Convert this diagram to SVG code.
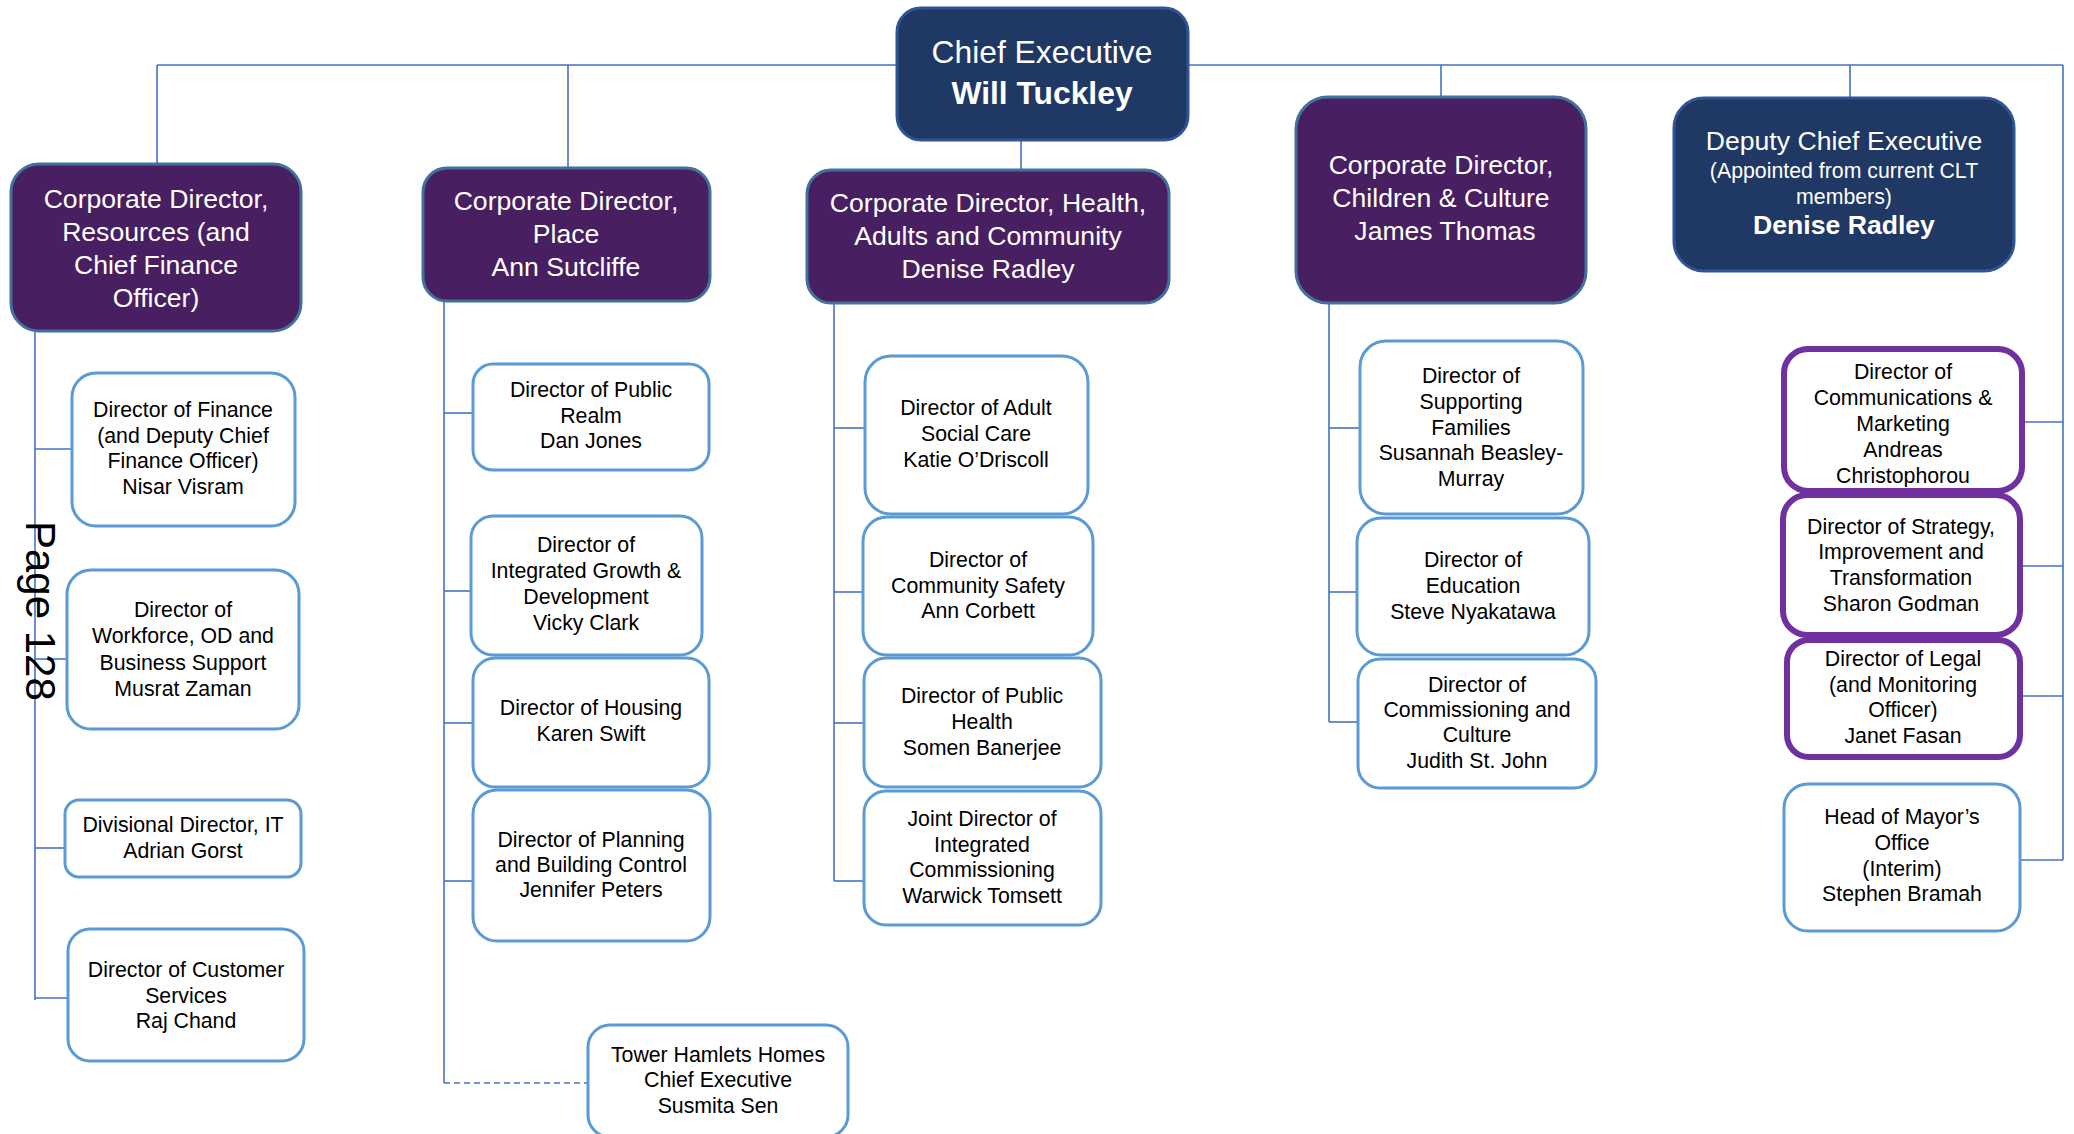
<svg xmlns="http://www.w3.org/2000/svg" width="2074" height="1134" viewBox="0 0 2074 1134">
<style>
.bg{fill:#ffffff}
.con{stroke:#4472C4;stroke-width:1.6;fill:none}
.dash{stroke:#4472C4;stroke-width:1.6;fill:none;stroke-dasharray:6 4}
.navy{fill:#203864;stroke:#2F5597;stroke-width:3}
.purp{fill:#481F60;stroke:#41719C;stroke-width:3}
.sub{fill:#ffffff;stroke:#5B9BD5;stroke-width:3}
.subp{fill:#ffffff;stroke:#7030A0;stroke-width:6}
.tw{font-family:'Liberation Sans',Arial,sans-serif;fill:#ffffff;text-anchor:middle;font-size:26.6px}
.tc{font-family:'Liberation Sans',Arial,sans-serif;fill:#ffffff;text-anchor:middle;font-size:31.8px}
.ts{font-family:'Liberation Sans',Arial,sans-serif;fill:#000000;text-anchor:middle;font-size:21.3px}
.b{font-weight:bold}
</style>
<defs>
<clipPath id="clipD1"><rect x="1784" y="349" width="238" height="138"/></clipPath>
</defs>
<rect class="bg" x="0" y="0" width="2074" height="1134"/>

<g id="connectors">
<line class="con" x1="157" y1="65" x2="2063" y2="65"/>
<line class="con" x1="157" y1="65" x2="157" y2="164"/>
<line class="con" x1="568" y1="65" x2="568" y2="168"/>
<line class="con" x1="1021" y1="140" x2="1021" y2="170"/>
<line class="con" x1="1441" y1="65" x2="1441" y2="97"/>
<line class="con" x1="1850" y1="65" x2="1850" y2="98"/>
<line class="con" x1="2063" y1="65" x2="2063" y2="860"/>

<line class="con" x1="35" y1="331" x2="35" y2="1000"/>
<line class="con" x1="35" y1="449" x2="72" y2="449"/>
<line class="con" x1="35" y1="659" x2="67" y2="659"/>
<line class="con" x1="35" y1="848" x2="65" y2="848"/>
<line class="con" x1="35" y1="998" x2="68" y2="998"/>

<line class="con" x1="444" y1="301" x2="444" y2="1083"/>
<line class="con" x1="444" y1="413" x2="473" y2="413"/>
<line class="con" x1="444" y1="591" x2="471" y2="591"/>
<line class="con" x1="444" y1="723" x2="473" y2="723"/>
<line class="con" x1="444" y1="881" x2="473" y2="881"/>
<line class="dash" x1="444" y1="1083" x2="588" y2="1083"/>

<line class="con" x1="834" y1="303" x2="834" y2="881"/>
<line class="con" x1="834" y1="428" x2="865" y2="428"/>
<line class="con" x1="834" y1="592" x2="863" y2="592"/>
<line class="con" x1="834" y1="723" x2="864" y2="723"/>
<line class="con" x1="834" y1="881" x2="864" y2="881"/>

<line class="con" x1="1329" y1="303" x2="1329" y2="722"/>
<line class="con" x1="1329" y1="428" x2="1360" y2="428"/>
<line class="con" x1="1329" y1="592" x2="1357" y2="592"/>
<line class="con" x1="1329" y1="722" x2="1358" y2="722"/>

<line class="con" x1="2022" y1="422" x2="2063" y2="422"/>
<line class="con" x1="2020" y1="566" x2="2063" y2="566"/>
<line class="con" x1="2020" y1="696" x2="2063" y2="696"/>
<line class="con" x1="2020" y1="860" x2="2063" y2="860"/>
</g>

<g id="chief">
<rect class="navy" x="897" y="8" width="291" height="132" rx="24"/>
<text class="tc" x="1042" y="63">Chief Executive</text>
<text class="tc b" x="1042" y="104">Will Tuckley</text>
</g>

<g id="resources">
<rect class="purp" x="11" y="164" width="290" height="167" rx="28"/>
<text class="tw" x="156" y="208">Corporate Director,</text>
<text class="tw" x="156" y="241">Resources (and</text>
<text class="tw" x="156" y="274">Chief Finance</text>
<text class="tw" x="156" y="307">Officer)</text>
</g>

<g id="place">
<rect class="purp" x="423" y="168" width="287" height="133" rx="24"/>
<text class="tw" x="566" y="210">Corporate Director,</text>
<text class="tw" x="566" y="243">Place</text>
<text class="tw" x="566" y="276">Ann Sutcliffe</text>
</g>

<g id="health">
<rect class="purp" x="807" y="170" width="362" height="133" rx="24"/>
<text class="tw" x="988" y="212">Corporate Director, Health,</text>
<text class="tw" x="988" y="245">Adults and Community</text>
<text class="tw" x="988" y="278">Denise Radley</text>
</g>

<g id="children">
<rect class="purp" x="1296" y="97" width="290" height="206" rx="32"/>
<text class="tw" x="1441" y="174">Corporate Director,</text>
<text class="tw" x="1441" y="207">Children &amp; Culture</text>
<text class="tw" x="1445" y="240">James Thomas</text>
</g>

<g id="deputy">
<rect class="navy" x="1674" y="98" width="340" height="173" rx="30"/>
<text class="tw" x="1844" y="150">Deputy Chief Executive</text>
<text class="tw" x="1844" y="178" style="font-size:21.3px">(Appointed from current CLT</text>
<text class="tw" x="1844" y="204" style="font-size:21.3px">members)</text>
<text class="tw b" x="1844" y="234">Denise Radley</text>
</g>

<g id="finance">
<rect class="sub" x="72" y="373" width="223" height="153" rx="24"/>
<text class="ts" x="183" y="417">Director of Finance</text>
<text class="ts" x="183" y="443">(and Deputy Chief</text>
<text class="ts" x="183" y="468">Finance Officer)</text>
<text class="ts" x="183" y="494">Nisar Visram</text>
</g>

<g id="workforce">
<rect class="sub" x="67" y="570" width="232" height="159" rx="24"/>
<text class="ts" x="183" y="617">Director of</text>
<text class="ts" x="183" y="643">Workforce, OD and</text>
<text class="ts" x="183" y="670">Business Support</text>
<text class="ts" x="183" y="696">Musrat Zaman</text>
</g>

<g id="it">
<rect class="sub" x="65" y="800" width="236" height="77" rx="14"/>
<text class="ts" x="183" y="832">Divisional Director, IT</text>
<text class="ts" x="183" y="858">Adrian Gorst</text>
</g>

<g id="customer">
<rect class="sub" x="68" y="929" width="236" height="132" rx="22"/>
<text class="ts" x="186" y="977">Director of Customer</text>
<text class="ts" x="186" y="1003">Services</text>
<text class="ts" x="186" y="1028">Raj Chand</text>
</g>

<g id="realm">
<rect class="sub" x="473" y="364" width="236" height="106" rx="20"/>
<text class="ts" x="591" y="397">Director of Public</text>
<text class="ts" x="591" y="423">Realm</text>
<text class="ts" x="591" y="448">Dan Jones</text>
</g>

<g id="growth">
<rect class="sub" x="471" y="516" width="231" height="139" rx="22"/>
<text class="ts" x="586" y="552">Director of</text>
<text class="ts" x="586" y="578">Integrated Growth &amp;</text>
<text class="ts" x="586" y="604">Development</text>
<text class="ts" x="586" y="630">Vicky Clark</text>
</g>

<g id="housing">
<rect class="sub" x="473" y="658" width="236" height="129" rx="22"/>
<text class="ts" x="591" y="715">Director of Housing</text>
<text class="ts" x="591" y="741">Karen Swift</text>
</g>

<g id="planning">
<rect class="sub" x="473" y="790" width="237" height="151" rx="24"/>
<text class="ts" x="591" y="847">Director of Planning</text>
<text class="ts" x="591" y="872">and Building Control</text>
<text class="ts" x="591" y="897">Jennifer Peters</text>
</g>

<g id="thh">
<rect class="sub" x="588" y="1025" width="260" height="112" rx="22"/>
<text class="ts" x="718" y="1062">Tower Hamlets Homes</text>
<text class="ts" x="718" y="1087">Chief Executive</text>
<text class="ts" x="718" y="1113">Susmita Sen</text>
</g>

<g id="adultcare">
<rect class="sub" x="865" y="356" width="223" height="158" rx="26"/>
<text class="ts" x="976" y="415">Director of Adult</text>
<text class="ts" x="976" y="441">Social Care</text>
<text class="ts" x="976" y="467">Katie O’Driscoll</text>
</g>

<g id="safety">
<rect class="sub" x="863" y="517" width="230" height="138" rx="24"/>
<text class="ts" x="978" y="567">Director of</text>
<text class="ts" x="978" y="593">Community Safety</text>
<text class="ts" x="978" y="618">Ann Corbett</text>
</g>

<g id="publichealth">
<rect class="sub" x="864" y="658" width="237" height="129" rx="22"/>
<text class="ts" x="982" y="703">Director of Public</text>
<text class="ts" x="982" y="729">Health</text>
<text class="ts" x="982" y="755">Somen Banerjee</text>
</g>

<g id="jointcomm">
<rect class="sub" x="864" y="791" width="237" height="134" rx="22"/>
<text class="ts" x="982" y="826">Joint Director of</text>
<text class="ts" x="982" y="852">Integrated</text>
<text class="ts" x="982" y="877">Commissioning</text>
<text class="ts" x="982" y="903">Warwick Tomsett</text>
</g>

<g id="families">
<rect class="sub" x="1360" y="341" width="223" height="173" rx="26"/>
<text class="ts" x="1471" y="383">Director of</text>
<text class="ts" x="1471" y="409">Supporting</text>
<text class="ts" x="1471" y="435">Families</text>
<text class="ts" x="1471" y="460">Susannah Beasley-</text>
<text class="ts" x="1471" y="486">Murray</text>
</g>

<g id="education">
<rect class="sub" x="1357" y="518" width="232" height="137" rx="24"/>
<text class="ts" x="1473" y="567">Director of</text>
<text class="ts" x="1473" y="593">Education</text>
<text class="ts" x="1473" y="619">Steve Nyakatawa</text>
</g>

<g id="commculture">
<rect class="sub" x="1358" y="659" width="238" height="129" rx="22"/>
<text class="ts" x="1477" y="692">Director of</text>
<text class="ts" x="1477" y="717">Commissioning and</text>
<text class="ts" x="1477" y="742">Culture</text>
<text class="ts" x="1477" y="768">Judith St. John</text>
</g>

<g id="comms">
<rect class="subp" x="1784" y="349" width="238" height="142" rx="24"/>
<g clip-path="url(#clipD1)">
<text class="ts" x="1903" y="379">Director of</text>
<text class="ts" x="1903" y="405">Communications &amp;</text>
<text class="ts" x="1903" y="431">Marketing</text>
<text class="ts" x="1903" y="457">Andreas</text>
<text class="ts" x="1903" y="483">Christophorou</text>
</g>
</g>

<g id="strategy">
<rect class="subp" x="1783" y="495" width="237" height="140" rx="24"/>
<text class="ts" x="1901" y="534">Director of Strategy,</text>
<text class="ts" x="1901" y="559">Improvement and</text>
<text class="ts" x="1901" y="585">Transformation</text>
<text class="ts" x="1901" y="611">Sharon Godman</text>
</g>

<g id="legal">
<rect class="subp" x="1787" y="640" width="233" height="117" rx="22"/>
<text class="ts" x="1903" y="666">Director of Legal</text>
<text class="ts" x="1903" y="692">(and Monitoring</text>
<text class="ts" x="1903" y="717">Officer)</text>
<text class="ts" x="1903" y="743">Janet Fasan</text>
</g>

<g id="mayor">
<rect class="sub" x="1784" y="784" width="236" height="147" rx="24"/>
<text class="ts" x="1902" y="824">Head of Mayor’s</text>
<text class="ts" x="1902" y="850">Office</text>
<text class="ts" x="1902" y="876">(Interim)</text>
<text class="ts" x="1902" y="901">Stephen Bramah</text>
</g>

<text transform="translate(26,521) rotate(90)" x="0" y="0" style="font-family:'Liberation Sans',Arial,sans-serif;font-size:42px;fill:#000000">Page 128</text>
</svg>
